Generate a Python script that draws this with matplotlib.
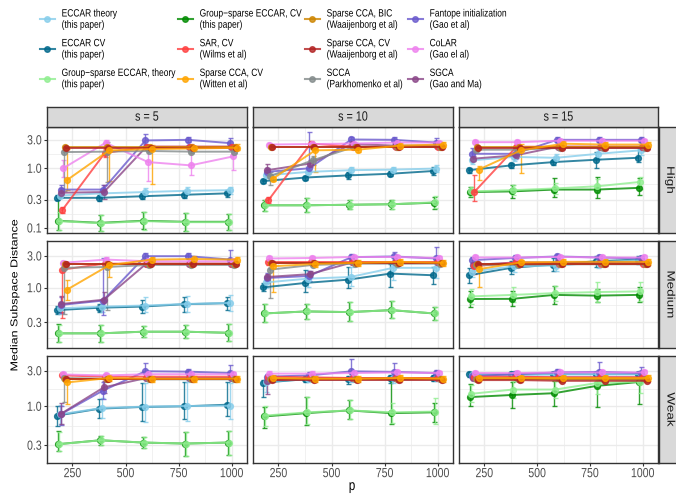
import numpy as np
import matplotlib
matplotlib.use("Agg")
import matplotlib.pyplot as plt
from matplotlib.lines import Line2D
from matplotlib.patheffects import AbstractPathEffect
from matplotlib.transforms import Affine2D

plt.rcParams['font.family'] = ['Liberation Sans', 'DejaVu Sans']

p = [200, 400, 600, 800, 1000]
s_labels = ['s = 5', 's = 10', 's = 15']
strength = ['High', 'Medium', 'Weak']
y_ticks = [[0.1, 0.3, 1.0, 3.0], [0.3, 1.0, 3.0], [0.3, 1.0, 3.0]]
y_lims = [(0.0824, 4.92), (0.124, 5.04), (0.189, 4.74)]

# medians; rows = High s5, s10, s15, Medium s5, s10, s15, Weak s5, s10, s15
eccar_theory = [[0.35, 0.38, 0.40, 0.42, 0.43], [0.76, 0.87, 0.93, 0.95, 0.99], [1.36, 1.55, 1.50, 1.75, 2.00],
                [0.49, 0.52, 0.54, 0.57, 0.59], [1.20, 1.37, 1.45, 1.99, 1.99], [1.75, 2.10, 2.15, 2.40, 2.60],
                [0.78, 0.95, 0.99, 1.01, 1.02], [2.15, 2.35, 2.35, 2.40, 2.40], [2.65, 2.65, 2.70, 2.70, 2.70]]
eccar_cv = [[0.32, 0.32, 0.34, 0.36, 0.38], [0.61, 0.70, 0.76, 0.81, 0.90], [0.93, 1.12, 1.27, 1.39, 1.50],
            [0.46, 0.50, 0.52, 0.565, 0.585], [1.01, 1.18, 1.32, 1.63, 1.54], [1.54, 1.99, 2.23, 2.50, 2.65],
            [0.75, 0.93, 0.98, 1.00, 1.05], [2.08, 2.31, 2.31, 2.40, 2.37], [2.68, 2.68, 2.70, 2.70, 2.70]]
gs_theory = [[0.13, 0.12, 0.13, 0.125, 0.125], [0.24, 0.24, 0.245, 0.25, 0.27], [0.41, 0.43, 0.46, 0.50, 0.59],
             [0.206, 0.206, 0.218, 0.218, 0.21], [0.41, 0.44, 0.43, 0.46, 0.41], [0.74, 0.78, 0.83, 0.86, 0.88],
             [0.31, 0.35, 0.326, 0.316, 0.326], [0.75, 0.83, 0.88, 0.83, 0.85], [1.47, 1.68, 1.68, 2.06, 2.14]]
gs_cv = [[0.132, 0.122, 0.132, 0.127, 0.127], [0.24, 0.24, 0.245, 0.25, 0.265], [0.40, 0.41, 0.44, 0.44, 0.47],
         [0.206, 0.206, 0.218, 0.218, 0.21], [0.41, 0.44, 0.43, 0.46, 0.41], [0.676, 0.68, 0.78, 0.76, 0.78],
         [0.31, 0.35, 0.326, 0.316, 0.326], [0.73, 0.81, 0.88, 0.81, 0.83], [1.33, 1.42, 1.50, 1.88, 2.12]]
sar = [[0.20, 1.80, 2.30, 2.30, 2.30], [0.29, 2.60, 2.30, 2.30, 2.30], [0.40, 2.30, 2.30, 2.30, 2.30],
       [1.87, 2.30, 2.30, 2.30, 2.30], [2.40, 2.40, 2.40, 2.40, 2.40], [2.10, 2.40, 2.30, 2.30, 2.30],
       [2.60, 2.50, 2.50, 2.50, 2.50], [2.50, 2.45, 2.40, 2.40, 2.40], [2.50, 2.50, 2.45, 2.45, 2.45]]
witten = [[0.63, 2.00, 2.10, 2.15, 2.20], [0.67, 2.00, 2.05, 2.40, 2.50], [0.95, 2.00, 2.58, 2.50, 2.50],
          [0.93, 2.18, 2.65, 2.70, 2.65], [2.10, 2.28, 2.37, 2.45, 2.37], [1.90, 2.40, 2.45, 2.45, 2.45],
          [2.09, 2.40, 2.35, 2.35, 2.35], [2.40, 2.35, 2.35, 2.40, 2.35], [2.40, 2.40, 2.40, 2.40, 2.40]]
bic = [[2.25, 2.25, 2.25, 2.25, 2.25], [2.30, 2.30, 2.30, 2.30, 2.30], [2.25, 2.25, 2.25, 2.25, 2.25],
       [2.30, 2.30, 2.30, 2.30, 2.30], [2.35, 2.35, 2.35, 2.35, 2.35], [2.30, 2.30, 2.30, 2.30, 2.30],
       [2.35, 2.35, 2.35, 2.35, 2.35], [2.30, 2.30, 2.30, 2.30, 2.30], [2.30, 2.30, 2.30, 2.30, 2.30]]
waaij = [[2.20, 2.20, 2.20, 2.20, 2.20], [2.27, 2.27, 2.27, 2.27, 2.27], [2.20, 2.20, 2.20, 2.20, 2.20],
         [2.28, 2.28, 2.28, 2.28, 2.28], [2.37, 2.37, 2.37, 2.37, 2.37], [2.25, 2.25, 2.25, 2.25, 2.25],
         [2.30, 2.30, 2.30, 2.30, 2.30], [2.25, 2.25, 2.25, 2.25, 2.25], [2.25, 2.25, 2.20, 2.20, 2.20]]
scca = [[1.87, 1.90, 1.95, 1.90, 1.90], [0.74, 1.36, 2.30, 2.30, 2.30], [2.05, 2.05, 2.20, 2.20, 2.20],
        [1.99, 2.05, 2.20, 2.20, 2.20], [1.87, 2.20, 2.30, 2.30, 2.30], [2.20, 2.20, 2.25, 2.25, 2.25],
        [2.40, 2.35, 2.30, 2.30, 2.30], [2.35, 2.30, 2.30, 2.30, 2.30], [2.35, 2.35, 2.30, 2.30, 2.30]]
fantope = [[0.44, 0.44, 2.93, 3.00, 2.64], [0.87, 1.00, 3.04, 3.00, 2.70], [1.75, 1.75, 3.00, 3.00, 3.00],
           [0.55, 0.64, 2.98, 2.98, 2.65], [1.40, 1.50, 2.88, 2.95, 2.75], [2.60, 2.80, 2.95, 2.85, 2.75],
           [0.78, 1.63, 2.96, 2.92, 2.80], [2.50, 2.60, 2.95, 2.90, 2.80], [2.55, 2.70, 2.85, 2.90, 2.80]]
colar = [[1.00, 2.68, 1.27, 1.12, 1.58], [2.50, 2.55, 2.60, 2.70, 2.70], [2.74, 2.74, 2.90, 2.90, 2.90],
         [2.37, 2.65, 2.50, 2.50, 2.50], [2.75, 2.80, 2.90, 2.90, 2.80], [2.85, 2.85, 2.90, 2.85, 2.85],
         [2.68, 2.60, 2.70, 2.70, 2.70], [2.75, 2.75, 2.80, 2.85, 2.80], [2.80, 2.80, 2.85, 2.85, 2.85]]
sgca = [[0.39, 0.40, 2.30, 2.30, 2.30], [0.93, 1.20, 2.55, 2.40, 2.40], [1.45, 1.65, 2.30, 2.30, 2.30],
        [0.57, 0.66, 2.30, 2.30, 2.30], [1.45, 1.60, 2.40, 2.40, 2.40], [2.20, 2.40, 2.40, 2.40, 2.40],
        [0.80, 1.80, 2.40, 2.40, 2.40], [2.20, 2.40, 2.40, 2.40, 2.40], [2.40, 2.45, 2.45, 2.45, 2.45]]

# error bars as factors: lower end = median / lo, upper end = median * hi
eccar_theory_lo = [[1.12, 1.12, 1.15, 1.15, 1.15], [1.1, 1.1, 1.15, 1.12, 1.15], [1.15, 1.15, 1.15, 1.2, 1.2],
                   [1.2, 1.2, 1.25, 1.3, 1.3], [1.2, 1.35, 1.35, 1.5, 1.4], [1.2, 1.2, 1.2, 1.2, 1.15],
                   [1.35, 1.35, 1.6, 1.6, 1.5], [1.4, 1.1, 1.1, 1.15, 1.1], [1.08, 1.08, 1.08, 1.08, 1.08]]
eccar_theory_hi = [[1.12, 1.12, 1.15, 1.15, 1.15], [1.1, 1.12, 1.15, 1.12, 1.15], [1.15, 1.15, 1.15, 1.2, 1.2],
                   [1.25, 1.3, 1.35, 1.3, 1.3], [1.15, 1.3, 1.4, 1.2, 1.2], [1.2, 1.2, 1.2, 1.15, 1.12],
                   [1.35, 1.35, 2.1, 2.1, 2.0], [1.1, 1.1, 1.1, 1.1, 1.1], [1.08, 1.08, 1.08, 1.08, 1.08]]
eccar_cv_lo = [[1.1, 1.12, 1.12, 1.15, 1.15], [1.08, 1.08, 1.15, 1.1, 1.15], [1.1, 1.1, 1.1, 1.35, 1.17],
               [1.15, 1.15, 1.25, 1.3, 1.25], [1.15, 1.35, 1.35, 1.6, 1.35], [1.3, 1.25, 1.25, 1.2, 1.15],
               [1.4, 1.35, 1.55, 1.5, 1.4], [1.55, 1.1, 1.15, 1.15, 1.1], [1.08, 1.08, 1.08, 1.08, 1.08]]
eccar_cv_hi = [[1.1, 1.12, 1.12, 1.15, 1.15], [1.08, 1.08, 1.15, 1.1, 1.15], [1.1, 1.1, 1.1, 1.35, 1.5],
               [1.15, 1.15, 1.25, 1.3, 1.25], [1.15, 1.55, 1.55, 1.4, 1.35], [1.3, 1.25, 1.25, 1.2, 1.15],
               [1.35, 1.35, 2.1, 2.1, 2.0], [1.1, 1.1, 1.1, 1.1, 1.1], [1.08, 1.08, 1.08, 1.08, 1.08]]
gs_theory_lo = [[1.4, 1.35, 1.4, 1.4, 1.35], [1.25, 1.3, 1.2, 1.2, 1.25], [1.2, 1.2, 1.25, 1.3, 1.3],
                [1.35, 1.35, 1.2, 1.25, 1.35], [1.35, 1.3, 1.35, 1.3, 1.25], [1.3, 1.3, 1.3, 1.4, 1.4],
                [1.25, 1.15, 1.2, 1.45, 1.45], [1.4, 1.45, 1.3, 1.4, 1.45], [1.3, 1.3, 1.3, 1.4, 1.4]]
gs_theory_hi = [[1.4, 1.35, 1.4, 1.4, 1.35], [1.25, 1.3, 1.2, 1.2, 1.25], [1.2, 1.2, 1.25, 1.3, 1.2],
                [1.35, 1.35, 1.2, 1.25, 1.35], [1.4, 1.3, 1.4, 1.35, 1.25], [1.3, 1.3, 1.3, 1.4, 1.4],
                [1.45, 1.15, 1.2, 1.45, 1.45], [1.35, 1.6, 1.4, 1.35, 1.5], [1.3, 1.3, 1.3, 1.25, 1.25]]
gs_cv_lo = [[1.4, 1.35, 1.35, 1.4, 1.35], [1.25, 1.3, 1.2, 1.2, 1.25], [1.2, 1.3, 1.35, 1.4, 1.3],
            [1.35, 1.35, 1.2, 1.25, 1.35], [1.35, 1.3, 1.35, 1.3, 1.25], [1.3, 1.3, 1.35, 1.25, 1.3],
            [1.25, 1.15, 1.2, 1.45, 1.45], [1.43, 1.45, 1.3, 1.4, 1.35], [1.3, 1.5, 1.5, 1.9, 1.95]]
gs_cv_hi = [[2.4, 1.35, 1.4, 1.4, 1.35], [1.25, 1.3, 1.2, 1.2, 1.25], [1.2, 1.3, 1.55, 1.6, 1.45],
            [1.4, 1.35, 1.2, 1.25, 1.35], [1.4, 1.3, 1.4, 1.35, 1.25], [1.3, 1.3, 1.35, 1.25, 1.3],
            [1.5, 1.15, 1.2, 1.45, 1.45], [1.34, 1.65, 1.4, 2.7, 1.35], [1.5, 1.5, 1.45, 1.4, 1.3]]
sar_lo = [[1.12, 1.15, 1.05, 1.05, 1.05], [1.12, 1.1, 1.05, 1.05, 1.05], [1.4, 1.05, 1.05, 1.05, 1.05],
          [5.3, 1.05, 1.05, 1.05, 1.05], [1.1, 1.05, 1.05, 1.05, 1.05], [1.3, 1.05, 1.05, 1.05, 1.05],
          [1.05, 1.05, 1.05, 1.05, 1.05], [1.05, 1.05, 1.05, 1.05, 1.05], [1.05, 1.05, 1.05, 1.05, 1.05]]
sar_hi = [[1.12, 1.15, 1.05, 1.05, 1.05], [1.12, 1.1, 1.05, 1.05, 1.05], [1.9, 1.05, 1.05, 1.05, 1.05],
          [1.25, 1.05, 1.05, 1.05, 1.05], [1.05, 1.05, 1.05, 1.05, 1.05], [1.05, 1.05, 1.05, 1.05, 1.05],
          [1.05, 1.05, 1.05, 1.05, 1.05], [1.05, 1.05, 1.05, 1.05, 1.05], [1.05, 1.05, 1.05, 1.05, 1.05]]
witten_lo = [[1.45, 3.3, 3.8, 1.1, 1.1], [1.08, 2.3, 1.08, 1.1, 1.1], [1.5, 2.4, 1.1, 1.1, 1.1],
             [1.4, 1.5, 1.1, 1.1, 1.1], [2.4, 1.1, 1.1, 1.1, 1.1], [1.85, 1.1, 1.1, 1.1, 1.1],
             [1.95, 1.1, 1.1, 1.1, 1.1], [1.1, 1.1, 1.1, 1.1, 1.1], [1.1, 1.1, 1.1, 1.1, 1.1]]
witten_hi = [[3.4, 1.15, 1.15, 1.1, 1.15], [1.08, 1.1, 1.08, 1.1, 1.1], [1.15, 1.3, 1.1, 1.1, 1.1],
             [1.4, 1.1, 1.1, 1.1, 1.1], [1.1, 1.1, 1.1, 1.1, 1.1], [1.1, 1.1, 1.1, 1.1, 1.1],
             [1.1, 1.1, 1.1, 1.1, 1.1], [1.1, 1.1, 1.1, 1.1, 1.1], [1.1, 1.1, 1.1, 1.1, 1.1]]
bic_lo = [[1.05, 1.05, 1.05, 1.05, 1.05]] * 9
bic_hi = [[1.05, 1.05, 1.05, 1.05, 1.05]] * 9
waaij_lo = [[1.05, 1.05, 1.05, 1.05, 1.05]] * 9
waaij_hi = [[1.05, 1.05, 1.05, 1.05, 1.05]] * 9
scca_lo = [[4.5, 3.2, 1.05, 1.05, 1.05], [1.4, 1.2, 1.05, 1.05, 1.05], [1.05, 1.05, 1.05, 1.05, 1.05],
           [5.0, 4.5, 1.05, 1.05, 1.05], [2.7, 1.05, 1.05, 1.05, 1.05], [1.05, 1.05, 1.05, 1.05, 1.05],
           [2.1, 1.05, 1.05, 1.05, 1.05], [1.05, 1.05, 1.05, 1.05, 1.05], [1.05, 1.05, 1.05, 1.05, 1.05]]
scca_hi = [[1.1, 1.45, 1.05, 1.05, 1.05], [1.18, 1.2, 1.05, 1.05, 1.05], [1.05, 1.05, 1.05, 1.05, 1.05],
           [1.15, 1.1, 1.05, 1.05, 1.05], [1.05, 1.05, 1.05, 1.05, 1.05], [1.05, 1.05, 1.05, 1.05, 1.05],
           [1.05, 1.05, 1.05, 1.05, 1.05], [1.05, 1.05, 1.05, 1.05, 1.05], [1.05, 1.05, 1.05, 1.05, 1.05]]
fantope_lo = [[1.2, 1.2, 1.13, 1.1, 1.2], [1.15, 1.14, 1.12, 1.1, 1.2], [1.25, 1.2, 1.1, 1.1, 1.1],
              [1.3, 1.65, 1.1, 1.1, 1.15], [1.2, 1.2, 1.1, 1.15, 1.1], [1.1, 1.1, 1.1, 1.1, 1.1],
              [1.4, 1.3, 1.1, 1.1, 1.15], [1.2, 1.1, 1.1, 1.1, 1.1], [1.1, 1.1, 1.1, 1.1, 1.1]]
fantope_hi = [[1.2, 1.2, 1.3, 1.1, 1.2], [1.15, 4.1, 1.12, 1.1, 1.2], [1.25, 1.2, 1.1, 1.1, 1.1],
              [1.3, 4.3, 1.1, 1.1, 1.4], [1.2, 1.2, 1.1, 1.15, 1.5], [1.1, 1.1, 1.1, 1.1, 1.1],
              [1.3, 1.3, 1.3, 1.1, 1.3], [1.1, 1.1, 1.45, 1.3, 1.1], [1.1, 1.1, 1.1, 1.35, 1.2]]
colar_lo = [[1.38, 1.1, 2.1, 1.45, 1.7], [1.08, 1.08, 1.08, 1.08, 1.08], [1.08, 1.08, 1.08, 1.08, 1.08],
            [1.2, 1.1, 1.08, 1.08, 1.08], [1.08, 1.08, 1.08, 1.08, 1.08], [1.08, 1.08, 1.08, 1.08, 1.08],
            [1.08, 1.08, 1.08, 1.08, 1.08], [1.08, 1.08, 1.08, 1.08, 1.08], [1.08, 1.08, 1.08, 1.08, 1.08]]
colar_hi = [[1.38, 1.1, 1.95, 2.3, 1.45], [1.08, 1.08, 1.08, 1.08, 1.08], [1.08, 1.08, 1.08, 1.08, 1.08],
            [1.08, 1.08, 1.08, 1.08, 1.08], [1.08, 1.08, 1.08, 1.08, 1.08], [1.08, 1.08, 1.08, 1.08, 1.08],
            [1.08, 1.08, 1.08, 1.08, 1.08], [1.08, 1.08, 1.08, 1.08, 1.08], [1.08, 1.08, 1.08, 1.08, 1.08]]
sgca_lo = [[1.2, 1.3, 1.05, 1.05, 1.05], [1.25, 1.15, 1.05, 1.05, 1.05], [1.1, 1.1, 1.05, 1.05, 1.05],
           [1.3, 1.3, 1.05, 1.05, 1.05], [1.1, 1.1, 1.05, 1.05, 1.05], [1.1, 1.05, 1.05, 1.05, 1.05],
           [1.4, 1.2, 1.05, 1.05, 1.05], [1.5, 1.05, 1.05, 1.05, 1.05], [1.05, 1.05, 1.05, 1.05, 1.05]]
sgca_hi = [[1.2, 1.3, 1.05, 1.05, 1.05], [1.25, 1.15, 1.05, 1.05, 1.05], [1.1, 1.1, 1.05, 1.05, 1.05],
           [1.3, 1.3, 1.05, 1.05, 1.05], [1.1, 1.1, 1.05, 1.05, 1.05], [1.1, 1.05, 1.05, 1.05, 1.05],
           [1.4, 1.2, 1.05, 1.05, 1.05], [1.1, 1.05, 1.05, 1.05, 1.05], [1.05, 1.05, 1.05, 1.05, 1.05]]

# (legend label, colour, medians, lo, hi) in legend order
methods = [
    ('ECCAR theory\n(this paper)', '#87CEEB', eccar_theory, eccar_theory_lo, eccar_theory_hi),
    ('ECCAR CV\n(this paper)', '#00688B', eccar_cv, eccar_cv_lo, eccar_cv_hi),
    ('Group\u2212sparse ECCAR, theory\n(this paper)', '#90EE90', gs_theory, gs_theory_lo, gs_theory_hi),
    ('Group\u2212sparse ECCAR, CV\n(this paper)', '#008B00', gs_cv, gs_cv_lo, gs_cv_hi),
    ('SAR, CV\n(Wilms et al)', '#FF4040', sar, sar_lo, sar_hi),
    ('Sparse CCA, CV\n(Witten et al)', '#FFA500', witten, witten_lo, witten_hi),
    ('Sparse CCA, BIC\n(Waaijenborg et al)', '#CD8500', bic, bic_lo, bic_hi),
    ('Sparse CCA, CV\n(Waaijenborg et al)', '#B22222', waaij, waaij_lo, waaij_hi),
    ('SCCA\n(Parkhomenko et al)', '#838B8B', scca, scca_lo, scca_hi),
    ('Fantope initialization\n(Gao et al)', '#6A5ACD', fantope, fantope_lo, fantope_hi),
    ('CoLAR\n(Gao el al)', '#EE82EE', colar, colar_lo, colar_hi),
    ('SGCA\n(Gao and Ma)', '#8B4789', sgca, sgca_lo, sgca_hi),
]
# left-to-right dodge order (indices into methods)
dodge_order = [1, 3, 2, 0, 9, 11, 4, 10, 8, 6, 7, 5]
dodge_width = 50


class Squeeze(AbstractPathEffect):
    """Draw text narrower in x (the reference text is condensed)."""

    def __init__(self, sx=0.8, anchor='center'):
        super().__init__()
        self.sx = sx
        self.anchor = anchor

    def draw_path(self, renderer, gc, tpath, affine, rgbFace=None):
        if self.anchor == 'left':
            a = affine.transform((0, 0))[0]
        else:
            bb = tpath.get_extents(affine)
            a = bb.x1 if self.anchor == 'right' else (bb.x0 + bb.x1) / 2
        t = affine + Affine2D().translate(-a, 0).scale(self.sx, 1).translate(a, 0)
        renderer.draw_path(gc, tpath, t, rgbFace)


SX = 0.8
W, H = 676, 494
fig = plt.figure(figsize=(W / 100, H / 100), dpi=100)
cols_px = [(47, 247), (253, 453), (459, 658)]
rows_px = [(127, 233), (241, 348), (356, 463)]


def fig_rect(x0, x1, y0, y1):
    return [x0 / W, 1 - y1 / H, (x1 - x0) / W, (y1 - y0) / H]


grid_col = '#EBEBEB'
for r, (y0, y1) in enumerate(rows_px):
    for c, (x0, x1) in enumerate(cols_px):
        ax = fig.add_axes(fig_rect(x0, x1, y0, y1))
        k = r * 3 + c
        ax.set_yscale('log')
        ax.set_xlim(130, 1072)
        ax.set_ylim(*y_lims[r])
        ax.set_xticks([250, 500, 750, 1000])
        ax.set_xticks([375, 625, 875], minor=True)
        ax.set_yticks(y_ticks[r])
        ax.set_yticks([0.1732, 0.5477, 1.732], minor=True)
        ax.set_yticklabels(['%.1f' % v for v in y_ticks[r]])
        ax.set_xticklabels(['250', '500', '750', '1000'])
        ax.yaxis.set_minor_formatter(plt.NullFormatter())
        ax.grid(True, which='major', color=grid_col, lw=1.0)
        ax.grid(True, which='minor', color=grid_col, lw=0.5)
        ax.set_axisbelow(True)
        ax.tick_params(which='minor', length=0)
        ax.tick_params(which='major', length=2.5, width=0.8, color='#333333', pad=1.2,
                       labelsize=9.5, labelcolor='#4D4D4D')
        for lbl in ax.get_xticklabels():
            lbl.set_path_effects([Squeeze(SX, 'center')])
        for lbl in ax.get_yticklabels():
            lbl.set_path_effects([Squeeze(SX, 'right')])
        if c != 0:
            ax.tick_params(axis='y', which='both', left=False, labelleft=False)
        if r != 2:
            ax.tick_params(axis='x', which='both', bottom=False, labelbottom=False)
        for sp in ax.spines.values():
            sp.set_color('#333333')
            sp.set_linewidth(1.0)
            sp.set_zorder(5)

        for pos, m in enumerate(dodge_order):
            label, color, med, lo, hi = methods[m]
            off = (pos - 5.5) / 12 * dodge_width
            x = np.array(p) + off
            y = np.array(med[k])
            ylo = y / np.array(lo[k])
            yhi = y * np.array(hi[k])
            ax.errorbar(x, y, yerr=[y - ylo, yhi - y], fmt='-o', color=color, ms=4.2,
                        lw=1.4, elinewidth=1.0, capsize=1.8, capthick=1.0, alpha=0.8)

        # top strips
        if r == 0:
            sax = fig.add_axes(fig_rect(x0, x1, 107, y0))
            sax.set_facecolor('#D9D9D9')
            sax.set_xticks([])
            sax.set_yticks([])
            for sp in sax.spines.values():
                sp.set_color('#333333')
                sp.set_linewidth(1.0)
            sax.text(0.5, 0.47, s_labels[c], ha='center', va='center', fontsize=9.7,
                     color='#1A1A1A', transform=sax.transAxes,
                     path_effects=[Squeeze(SX, 'center')])
    # right strips
    rax = fig.add_axes(fig_rect(659, 680, y0, y1))
    rax.set_facecolor('#D9D9D9')
    rax.set_xticks([])
    rax.set_yticks([])
    for sp in rax.spines.values():
        sp.set_color('#333333')
        sp.set_linewidth(1.0)
    rax.text(0.5, 0.5, strength[r], ha='center', va='center', rotation=-90, fontsize=9.7,
             color='#1A1A1A', transform=rax.transAxes, path_effects=[Squeeze(SX, 'center')])

fig.text(15 / W, 1 - 295 / H, 'Median Subspace Distance', rotation=90, ha='center',
         va='center', fontsize=9.0, color='black', path_effects=[Squeeze(SX, 'center')])
fig.text(352 / W, 1 - 479 / H, 'p', ha='center', va='top', fontsize=10.5, color='black',
         path_effects=[Squeeze(SX, 'center')])

# legend: four columns placed at the reference column positions
col_left_px = [40, 178, 305, 408]
for j in range(4):
    hs = [Line2D([0], [0], color=methods[i][1], marker='o', ms=4, lw=1.5, alpha=0.8)
          for i in range(3 * j, 3 * j + 3)]
    ls = [methods[i][0] for i in range(3 * j, 3 * j + 3)]
    leg = fig.legend(hs, ls, ncol=1, loc='upper left',
                     bbox_to_anchor=(col_left_px[j] / W, 1 - 8.5 / H),
                     frameon=False, fontsize=7.6, handlelength=1.4, handletextpad=0.65,
                     labelspacing=0.8, borderpad=0, borderaxespad=0)
    for t in leg.get_texts():
        t.set_linespacing(1.16)
        t.set_path_effects([Squeeze(SX, 'left')])

fig.savefig('out.png', dpi=100)
